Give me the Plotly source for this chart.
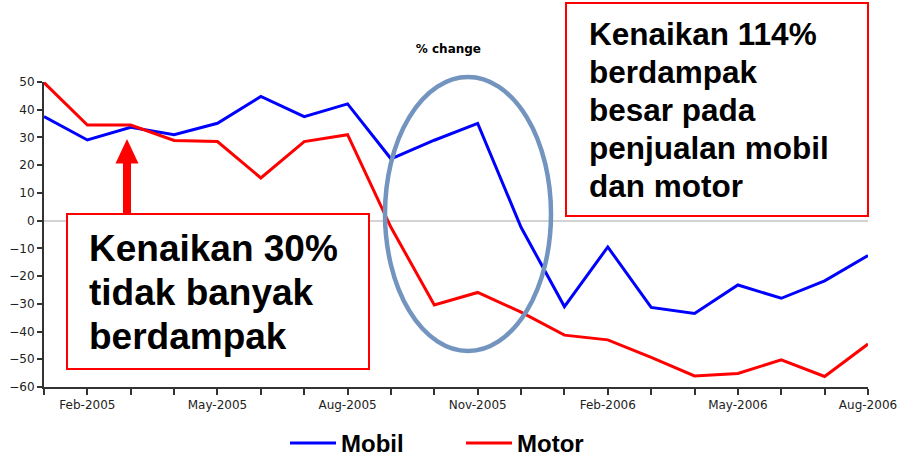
import plotly.graph_objects as go

months = ["Jan-2005", "Feb-2005", "Mar-2005", "Apr-2005", "May-2005", "Jun-2005",
          "Jul-2005", "Aug-2005", "Sep-2005", "Oct-2005", "Nov-2005", "Dec-2005",
          "Jan-2006", "Feb-2006", "Mar-2006", "Apr-2006", "May-2006", "Jun-2006",
          "Jul-2006", "Aug-2006"]
mobil = [37.5, 29.1, 33.7, 31.0, 35.1, 44.8, 37.5, 42.1, 22.3, 29.0,
         35.1, -2.4, -31.0, -9.5, -31.3, -33.5, -23.2, -28.0, -21.7, -12.6]
motor = [49.8, 34.5, 34.5, 28.9, 28.5, 15.4, 28.5, 31.0, -2.4, -30.4,
         -25.9, -33.0, -41.3, -43.0, -49.3, -56.0, -55.1, -50.2, -56.2, -44.5]
tick_labels = [m if i % 3 == 1 else "" for i, m in enumerate(months)]
y_ticks = list(range(-60, 51, 10))

box1_lines = ["Kenaikan 30%", "tidak banyak", "berdampak"]
box2_lines = ["Kenaikan 114%", "berdampak", "besar pada", "penjualan mobil", "dan motor"]

W, H = 899, 453
L, R, T, B = 44, 31, 82, 66
PW, PH = W - L - R, H - T - B


def px(x):
    return (x - L) / PW


def py(y):
    return (H - B - y) / PH


fig = go.Figure()
fig.add_trace(go.Scatter(x=months, y=mobil, mode="lines", name="<b>Mobil</b>",
                         line=dict(color="#0000FF", width=3)))
fig.add_trace(go.Scatter(x=months, y=motor, mode="lines", name="<b>Motor</b>",
                         line=dict(color="#FF0000", width=3)))

shapes = []
# ellipse
shapes.append(dict(type="circle", xref="paper", yref="paper",
                   x0=px(385), x1=px(551), y0=py(351), y1=py(77),
                   line=dict(color="#7294BE", width=4.5), layer="above"))
# boxes
shapes.append(dict(type="rect", xref="paper", yref="paper",
                   x0=px(67), x1=px(369), y0=py(369), y1=py(214),
                   fillcolor="white", line=dict(color="#FF0000", width=2), layer="above"))
shapes.append(dict(type="rect", xref="paper", yref="paper",
                   x0=px(566), x1=px(868), y0=py(216), y1=py(3),
                   fillcolor="white", line=dict(color="#FF0000", width=2), layer="above"))
# arrow
pts = [(127, 139), (138.5, 163.5), (131, 163.5), (131, 214), (123, 214), (123, 163.5), (115.5, 163.5)]
path = "M " + " L ".join(f"{px(a):.5f},{py(b):.5f}" for a, b in pts) + " Z"
shapes.append(dict(type="path", xref="paper", yref="paper", path=path,
                   fillcolor="#FF0000", line=dict(color="#FF0000", width=0), layer="above"))

annotations = []
big = "Arial, Liberation Sans, sans-serif"
for i, t in enumerate(box1_lines):
    annotations.append(dict(text=f"<b>{t}</b>", xref="paper", yref="paper",
                            x=px(86.5), y=py(248.5 + 44 * i), xanchor="left", yanchor="middle",
                            showarrow=False, font=dict(family=big, size=37, color="black")))
for i, t in enumerate(box2_lines):
    annotations.append(dict(text=f"<b>{t}</b>", xref="paper", yref="paper",
                            x=px(586.5), y=py(34 + 38 * i), xanchor="left", yanchor="middle",
                            showarrow=False, font=dict(family=big, size=31.5, color="black")))

fig.update_layout(
    width=W, height=H,
    margin=dict(l=L, r=R, t=T, b=B, autoexpand=False),
    paper_bgcolor="white", plot_bgcolor="white",
    title=dict(text="<b>% change</b>", x=px(455), xanchor="center", y=1 - 49 / H, yanchor="middle",
               font=dict(family="DejaVu Sans, sans-serif", size=12, color="black")),
    xaxis=dict(type="category", range=[0, 19], tickmode="array", tickvals=months,
               ticktext=tick_labels, ticks="outside", ticklen=6, tickwidth=1.5, tickcolor="#333",
               showline=True, linecolor="#333", linewidth=2, showgrid=False, zeroline=False,
               tickangle=0, tickfont=dict(family="DejaVu Sans, sans-serif", size=12, color="#222")),
    yaxis=dict(range=[-60, 50], tickmode="array", tickvals=y_ticks, ticks="outside", ticklen=5,
               tickwidth=1.5, tickcolor="#333", showline=True, linecolor="#333", linewidth=2,
               showgrid=False, zeroline=True, zerolinecolor="#D3D3D3", zerolinewidth=2,
               tickfont=dict(family="DejaVu Sans, sans-serif", size=12, color="#222")),
    legend=dict(orientation="h", x=px(285), xanchor="left", y=py(421), yanchor="top",
                font=dict(family=big, size=24, color="black"), itemwidth=46,
                entrywidth=115, entrywidthmode="pixels", bgcolor="rgba(0,0,0,0)"),
    shapes=shapes, annotations=annotations,
)

fig.write_html("out.html", config={"displayModeBar": False},
               post_script="document.body.style.margin='0';document.body.style.overflow='hidden';")
